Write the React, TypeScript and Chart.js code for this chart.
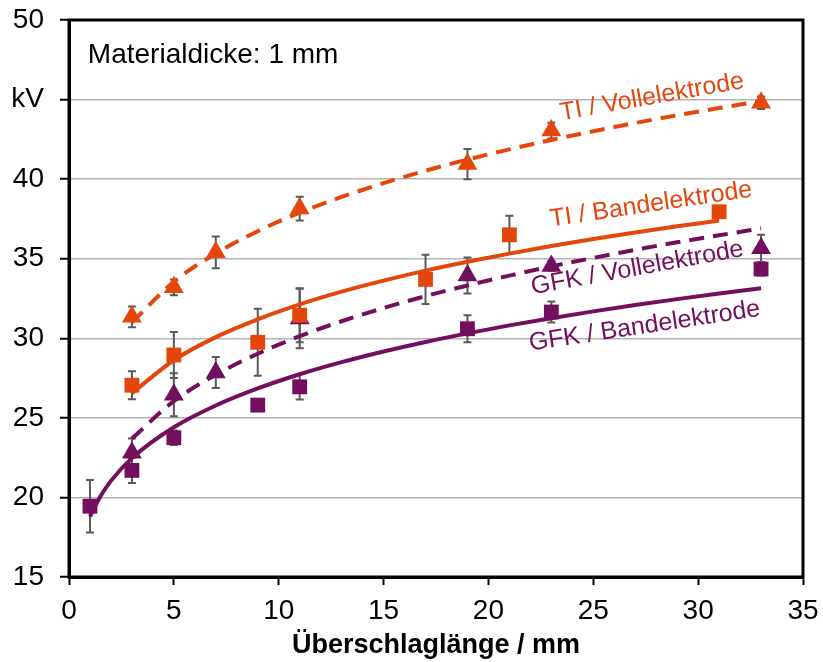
import React, { useEffect, useRef } from 'react';
import { Chart, registerables } from 'chart.js';

Chart.register(...registerables);

const ORANGE = '#E4470C';
const PURPLE = '#730F5F';
const ERR_COLOR = '#5A5A5A';
const FONT = '"Liberation Sans", Arial, sans-serif';

// Axis ticks
const xTickValues = [0, 5, 10, 15, 20, 25, 30, 35];
const yTickValues = [15, 20, 25, 30, 35, 40, 45, 50];
const yTickLabels = ['15', '20', '25', '30', '35', '40', 'kV', '50'];

// Measured points
const tiVollX = [3, 5, 7, 11, 19, 23, 33];
const tiVollY = [31.35, 33.2, 35.4, 38.15, 40.95, 43.05, 44.8];
const tiVollErr = [0.65, 0.5, 1.0, 0.75, 0.95, 0.5, 0.4];

const tiBandX = [3, 5, 9, 11, 17, 21, 31];
const tiBandY = [27.05, 28.95, 29.75, 31.45, 33.7, 36.5, 37.95];
const tiBandErr = [0.88, 1.45, 2.1, 1.7, 1.55, 1.2, 0.25];

const gfkVollX = [3, 5, 7, 11, 19, 23, 33];
const gfkVollY = [22.8, 26.45, 27.85, 31.25, 33.95, 34.55, 35.65];
const gfkVollErr = [0.9, 1.35, 0.97, 1.87, 1.13, 0.3, 0.85];

const gfkBandX = [1, 3, 5, 9, 11, 19, 23, 33];
const gfkBandY = [19.45, 21.7, 23.75, 25.8, 26.95, 30.6, 31.65, 34.35];
const gfkBandErr = [1.65, 0.8, 0.45, 0.2, 0.8, 0.85, 0.66, 0.4];

// Trend curves
const tiVollFitX = [3, 5, 7, 9, 11, 13, 15, 17, 19, 21, 23, 25, 27, 29, 31, 33];
const tiVollFitY = [31.0, 33.55, 35.33, 36.73, 37.89, 38.88, 39.75, 40.53, 41.23, 41.87, 42.46, 43.01, 43.53, 44.01, 44.47, 44.9];

const tiBandFitX = [3, 5, 7, 9, 11, 13, 15, 17, 19, 21, 23, 25, 27, 29, 31];
const tiBandFitY = [26.55, 28.62, 30.07, 31.19, 32.13, 32.93, 33.62, 34.25, 34.81, 35.32, 35.8, 36.24, 36.65, 37.04, 37.4];

const gfkVollFitX = [3, 5, 7, 9, 11, 13, 15, 17, 19, 21, 23, 25, 27, 29, 31, 33];
const gfkVollFitY = [23.7, 26.05, 27.71, 29.03, 30.13, 31.07, 31.9, 32.65, 33.32, 33.94, 34.52, 35.05, 35.56, 36.03, 36.47, 36.9];

const gfkBandFitX = [1, 1.5, 2, 3, 5, 7, 9, 11, 13, 15, 17, 19, 21, 23, 25, 27, 29, 31, 33];
const gfkBandFitY = [18.8, 20.08, 21.04, 22.47, 24.41, 25.78, 26.85, 27.74, 28.5, 29.17, 29.77, 30.31, 30.81, 31.26, 31.69, 32.09, 32.46, 32.81, 33.15];

// Text labels
const labelTexts = ['TI / Vollelektrode', 'TI / Bandelektrode', 'GFK / Vollelektrode', 'GFK / Bandelektrode'];
const labelX = [27.8, 27.75, 27.1, 27.45];
const labelY = [45.15, 38.4, 34.4, 30.75];
const labelAngle = [-10, -8.5, -10.3, -8.6];
const labelColors = [ORANGE, ORANGE, PURPLE, PURPLE];

const noteText = 'Materialdicke: 1 mm';
const noteX = 0.9;
const noteY = 47.3;

const xTitle = 'Überschlaglänge / mm';

const zip = (xs: number[], ys: number[]) => xs.map((x, i) => ({ x, y: ys[i] }));

const errSeries = [
  { x: tiVollX, y: tiVollY, e: tiVollErr },
  { x: tiBandX, y: tiBandY, e: tiBandErr },
  { x: gfkVollX, y: gfkVollY, e: gfkVollErr },
  { x: gfkBandX, y: gfkBandY, e: gfkBandErr },
];

const errorBarPlugin = {
  id: 'errorBars',
  beforeDatasetsDraw(chart: any) {
    const { ctx } = chart;
    const xs = chart.scales.x;
    const ys = chart.scales.y;
    ctx.save();
    ctx.strokeStyle = ERR_COLOR;
    ctx.lineWidth = 2;
    errSeries.forEach((s) => {
      s.x.forEach((xv, i) => {
        const px = xs.getPixelForValue(xv);
        const t = ys.getPixelForValue(s.y[i] + s.e[i]);
        const b = ys.getPixelForValue(s.y[i] - s.e[i]);
        ctx.beginPath();
        ctx.moveTo(px, t);
        ctx.lineTo(px, b);
        ctx.moveTo(px - 4, t);
        ctx.lineTo(px + 4, t);
        ctx.moveTo(px - 4, b);
        ctx.lineTo(px + 4, b);
        ctx.stroke();
      });
    });
    ctx.restore();
  },
};

const labelPlugin = {
  id: 'labels',
  afterDatasetsDraw(chart: any) {
    const { ctx } = chart;
    const xs = chart.scales.x;
    const ys = chart.scales.y;
    ctx.save();
    labelTexts.forEach((t, i) => {
      ctx.save();
      ctx.translate(xs.getPixelForValue(labelX[i]), ys.getPixelForValue(labelY[i]));
      ctx.rotate((labelAngle[i] * Math.PI) / 180);
      ctx.font = `25px ${FONT}`;
      ctx.fillStyle = labelColors[i];
      ctx.textAlign = 'center';
      ctx.textBaseline = 'middle';
      ctx.fillText(t, 0, 0);
      ctx.restore();
    });
    ctx.font = `28px ${FONT}`;
    ctx.fillStyle = '#000';
    ctx.textAlign = 'left';
    ctx.textBaseline = 'alphabetic';
    ctx.fillText(noteText, xs.getPixelForValue(noteX), ys.getPixelForValue(noteY));
    ctx.restore();
  },
};

const framePlugin = {
  id: 'frame',
  afterDraw(chart: any) {
    const { ctx, chartArea } = chart;
    ctx.save();
    ctx.strokeStyle = '#000';
    ctx.lineWidth = 3;
    ctx.strokeRect(chartArea.left, chartArea.top, chartArea.right - chartArea.left, chartArea.bottom - chartArea.top);
    ctx.restore();
  },
};

export default function App() {
  const ref = useRef<HTMLCanvasElement>(null);

  useEffect(() => {
    document.body.style.margin = '0';
    const canvas = ref.current;
    if (!canvas) return;
    const pointDs = (data: any, color: string, style: string, r: number) => ({
      data,
      showLine: false,
      pointStyle: style,
      pointRadius: r,
      pointHoverRadius: r,
      backgroundColor: color,
      borderColor: color,
      borderWidth: 0,
    });
    const lineDs = (data: any, color: string, dashed: boolean) => ({
      data,
      showLine: true,
      pointRadius: 0,
      borderColor: color,
      backgroundColor: color,
      borderWidth: 4,
      borderDash: dashed ? [15, 9] : [],
      cubicInterpolationMode: 'monotone',
      fill: false,
    });
    const chart = new Chart(canvas, {
      type: 'scatter',
      data: {
        datasets: [
          pointDs(zip(tiVollX, tiVollY), ORANGE, 'triangle', 11.5),
          pointDs(zip(tiBandX, tiBandY), ORANGE, 'rect', 10.5),
          pointDs(zip(gfkVollX, gfkVollY), PURPLE, 'triangle', 11.5),
          pointDs(zip(gfkBandX, gfkBandY), PURPLE, 'rect', 10.5),
          lineDs(zip(tiVollFitX, tiVollFitY), ORANGE, true),
          lineDs(zip(tiBandFitX, tiBandFitY), ORANGE, false),
          lineDs(zip(gfkVollFitX, gfkVollFitY), PURPLE, true),
          lineDs(zip(gfkBandFitX, gfkBandFitY), PURPLE, false),
        ] as any,
      },
      options: {
        animation: false,
        responsive: false,
        layout: { padding: { top: 20, right: 20, left: 0, bottom: 0 } },
        plugins: { legend: { display: false }, tooltip: { enabled: false } },
        scales: {
          x: {
            type: 'linear',
            min: 0,
            max: 35,
            afterFit: (s: any) => {
              s.height = 85;
              s.paddingLeft = 0;
              s.paddingRight = 0;
            },
            afterBuildTicks: (s: any) => { s.ticks = xTickValues.map((v) => ({ value: v })); },
            ticks: { color: '#000', font: { family: FONT, size: 28 }, padding: 9, maxRotation: 0 },
            grid: { drawOnChartArea: false, drawTicks: true, tickLength: 8, tickColor: '#000', tickWidth: 2 },
            border: { color: '#000', width: 3 },
            title: { display: true, text: xTitle, color: '#000', font: { family: FONT, size: 27, weight: 'bold' }, padding: { top: 0, bottom: 0 } },
          },
          y: {
            type: 'linear',
            min: 15,
            max: 50,
            afterFit: (s: any) => {
              s.width = 69;
              s.paddingTop = 0;
              s.paddingBottom = 0;
            },
            afterBuildTicks: (s: any) => { s.ticks = yTickValues.map((v) => ({ value: v })); },
            ticks: {
              color: '#000',
              font: { family: FONT, size: 28 },
              padding: 16,
              callback: (v: any) => {
                const i = yTickValues.indexOf(Number(v));
                return i >= 0 ? yTickLabels[i] : '';
              },
            },
            grid: { color: '#B3B3B3', lineWidth: 1.5, drawTicks: true, tickLength: 9, tickColor: '#000', tickWidth: 2 },
            border: { color: '#000', width: 3 },
          },
        },
      } as any,
      plugins: [errorBarPlugin, labelPlugin, framePlugin],
    });
    return () => chart.destroy();
  }, []);

  return (
    <div style={{ width: 823, height: 662 }}>
      <canvas ref={ref} width={823} height={662} style={{ width: 823, height: 662, display: 'block' }} />
    </div>
  );
}
